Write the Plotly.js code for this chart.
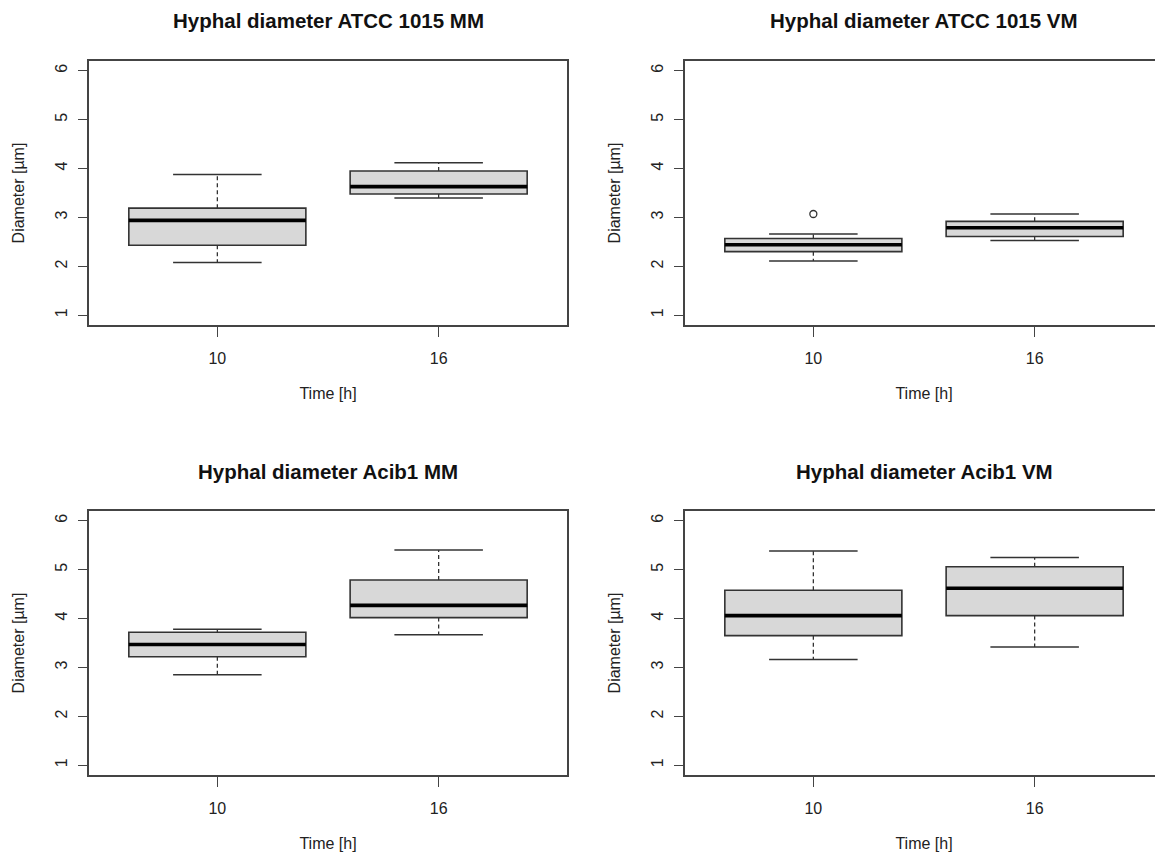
<!DOCTYPE html>
<html><head><meta charset="utf-8">
<script src="https://cdn.plot.ly/plotly-3.0.1.min.js"></script>
<style>html,body{margin:0;padding:0;overflow:hidden;background:#fff}</style>
</head><body><div id="chart" style="width:1180px;height:859px"></div>
<script>
// ---- data ----
const timeLabels = ['10', '16'];
const panelTitles = [
  'Hyphal diameter ATCC 1015 MM',
  'Hyphal diameter ATCC 1015 VM',
  'Hyphal diameter Acib1 MM',
  'Hyphal diameter Acib1 VM'
];
const yTickVals = [1, 2, 3, 4, 5, 6];
const xTitle = 'Time [h]';
const yTitle = 'Diameter [µm]';

const atccMM_low  = [2.08, 3.40];
const atccMM_q1   = [2.43, 3.48];
const atccMM_med  = [2.94, 3.63];
const atccMM_q3   = [3.19, 3.95];
const atccMM_high = [3.88, 4.12];

const atccVM_low  = [2.11, 2.53];
const atccVM_q1   = [2.30, 2.61];
const atccVM_med  = [2.44, 2.79];
const atccVM_q3   = [2.57, 2.92];
const atccVM_high = [2.66, 3.07];
const atccVM_outlierGroup = ['10'];
const atccVM_outlierValue = [3.07];

const acibMM_low  = [2.85, 3.67];
const acibMM_q1   = [3.22, 4.02];
const acibMM_med  = [3.47, 4.27];
const acibMM_q3   = [3.72, 4.79];
const acibMM_high = [3.78, 5.40];

const acibVM_low  = [3.16, 3.42];
const acibVM_q1   = [3.65, 4.06];
const acibVM_med  = [4.06, 4.62];
const acibVM_q3   = [4.58, 5.06];
const acibVM_high = [5.38, 5.25];

const panels = [
  {low: atccMM_low, q1: atccMM_q1, med: atccMM_med, q3: atccMM_q3, high: atccMM_high, outG: [], outV: []},
  {low: atccVM_low, q1: atccVM_q1, med: atccVM_med, q3: atccVM_q3, high: atccVM_high, outG: atccVM_outlierGroup, outV: atccVM_outlierValue},
  {low: acibMM_low, q1: acibMM_q1, med: acibMM_med, q3: acibMM_q3, high: acibMM_high, outG: [], outV: []},
  {low: acibVM_low, q1: acibVM_q1, med: acibVM_med, q3: acibVM_q3, high: acibVM_high, outG: [], outV: []}
];

// ---- layout geometry ----
const W = 1180, H = 859;
const xDom = [[89 / W, 567 / W], [685 / W, 1163 / W]];
const yDom = [[1 - 325 / H, 1 - 61 / H], [1 - 775 / H, 1 - 511 / H]];
const FONT = 'Liberation Sans, Arial, sans-serif';
const INK = '#333333';
const BOXW = 0.8;

const traces = [];
const layout = {
  width: W, height: H,
  margin: {l: 0, r: 0, t: 0, b: 0},
  paper_bgcolor: '#fff', plot_bgcolor: '#fff',
  showlegend: false,
  font: {family: FONT, color: '#222', size: 16},
  annotations: []
};

panels.forEach((p, i) => {
  const col = i % 2, row = Math.floor(i / 2);
  const sfx = i === 0 ? '' : String(i + 1);
  const xa = 'x' + sfx, ya = 'y' + sfx;
  const pos = timeLabels.map((_, j) => j + 1);

  // dashed whiskers
  const wx = [], wy = [];
  const cx = [], cy = [];
  pos.forEach((x, j) => {
    wx.push(x, x, null, x, x, null);
    wy.push(p.q3[j], p.high[j], null, p.q1[j], p.low[j], null);
    cx.push(x - BOXW / 4, x + BOXW / 4, null, x - BOXW / 4, x + BOXW / 4, null);
    cy.push(p.high[j], p.high[j], null, p.low[j], p.low[j], null);
  });
  traces.push({type: 'scatter', mode: 'lines', x: wx, y: wy, xaxis: xa, yaxis: ya,
    line: {color: INK, width: 1.3, dash: '4px,3px'}, hoverinfo: 'skip'});
  traces.push({type: 'scatter', mode: 'lines', x: cx, y: cy, xaxis: xa, yaxis: ya,
    line: {color: INK, width: 1.5}, hoverinfo: 'skip'});

  // boxes
  traces.push({type: 'box', x: pos, q1: p.q1, median: p.med, q3: p.q3,
    lowerfence: p.q1, upperfence: p.q3, width: BOXW, whiskerwidth: 0,
    boxpoints: false, fillcolor: '#d8d8d8', line: {color: INK, width: 1.6},
    xaxis: xa, yaxis: ya, hoverinfo: 'skip'});

  // thick median lines
  const mx = [], my = [];
  pos.forEach((x, j) => {
    mx.push(x - BOXW / 2, x + BOXW / 2, null);
    my.push(p.med[j], p.med[j], null);
  });
  traces.push({type: 'scatter', mode: 'lines', x: mx, y: my, xaxis: xa, yaxis: ya,
    line: {color: '#000', width: 3.6}, hoverinfo: 'skip'});

  // outliers
  if (p.outV.length) {
    traces.push({type: 'scatter', mode: 'markers',
      x: p.outG.map(g => timeLabels.indexOf(g) + 1), y: p.outV, xaxis: xa, yaxis: ya,
      marker: {symbol: 'circle-open', size: 7, color: INK, line: {width: 1.3}}, hoverinfo: 'skip'});
  }

  layout['xaxis' + sfx] = {
    domain: xDom[col], anchor: ya, range: [0.42, 2.58],
    tickvals: pos, ticktext: timeLabels,
    ticks: 'outside', ticklen: 10, tickwidth: 1.4, tickcolor: '#444',
    ticklabelstandoff: 8,
    showline: true, mirror: true, linecolor: '#444', linewidth: 1.8,
    showgrid: false, zeroline: false, fixedrange: true,
    tickfont: {size: 16, color: '#222', family: FONT},
    title: {text: xTitle, font: {size: 16, color: '#222', family: FONT}, standoff: 22}
  };
  layout['yaxis' + sfx] = {
    domain: yDom[row], anchor: xa, range: [0.8, 6.2],
    tickvals: yTickVals, tickangle: -90,
    ticks: 'outside', ticklen: 9, tickwidth: 1.4, tickcolor: '#444',
    ticklabelstandoff: 5,
    showline: true, mirror: true, linecolor: '#444', linewidth: 1.8,
    showgrid: false, zeroline: false, fixedrange: true,
    tickfont: {size: 16, color: '#222', family: FONT},
    title: {text: yTitle, font: {size: 16, color: '#222', family: FONT}, standoff: 24}
  };

  layout.annotations.push({
    text: '<b>' + panelTitles[i] + '</b>', showarrow: false,
    xref: 'paper', yref: 'paper',
    x: (xDom[col][0] + xDom[col][1]) / 2,
    y: 1 - (row === 0 ? 21 : 471) / H,
    xanchor: 'center', yanchor: 'middle',
    font: {size: 20.5, color: '#111', family: FONT}
  });
});

Plotly.newPlot('chart', traces, layout, {displayModeBar: false, staticPlot: true});
</script>
</body></html>
